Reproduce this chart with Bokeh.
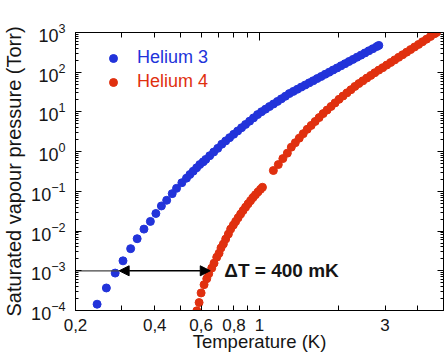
from bokeh.plotting import figure
from bokeh.models import (Range1d, FixedTicker, LogAxis, Legend, LegendItem, Arrow,
                          NormalHead, Label, LogTickFormatter)
from bokeh.embed import file_html
from bokeh.resources import INLINE

# ---------------- data ----------------
he3_T = [0.2416, 0.262, 0.283, 0.303, 0.324, 0.343, 0.364, 0.385, 0.404, 0.424,
         0.444, 0.466, 0.484, 0.507, 0.528, 0.544, 0.560, 0.577, 0.593, 0.611,
         0.625, 0.647, 0.670, 0.694, 0.719, 0.744, 0.770, 0.798, 0.826, 0.855,
         0.885, 0.917, 0.949, 0.983, 1.018, 1.054, 1.091, 1.130, 1.170, 1.211,
         1.254, 1.298, 1.344, 1.392, 1.441, 1.492, 1.545, 1.600, 1.656, 1.715,
         1.776, 1.839, 1.904, 1.971, 2.041, 2.113, 2.188, 2.265, 2.346, 2.429,
         2.515, 2.604, 2.696, 2.791, 2.840]
he3_P = [1.44e-4, 3.69e-4, 8.76e-4, 1.78e-3, 3.61e-3, 6.42e-3, 0.0112, 0.0175, 0.0277, 0.0429,
         0.0596, 0.0876, 0.119, 0.165, 0.215, 0.266, 0.322, 0.391, 0.473, 0.553,
         0.638, 0.790, 0.977, 1.209, 1.540, 1.862, 2.252, 2.738, 3.311, 4.004,
         4.842, 5.855, 7.079, 8.560, 10.12, 11.75, 13.65, 15.85, 18.41, 21.38,
         24.83, 29.01, 32.92, 37.15, 42.17, 47.59, 54.01, 60.95, 69.18, 78.05,
         88.61, 100.0, 113.5, 128.1, 145.4, 164.1, 186.2, 210.2, 238.5, 269.2,
         305.5, 346.7, 391.3, 444.1, 473.2]

he4_T = [0.578, 0.5896, 0.600, 0.6158, 0.6304, 0.6415, 0.6586, 0.6719, 0.688, 0.702,
         0.714, 0.729, 0.744, 0.7617, 0.777, 0.7955,
         0.8117, 0.8295, 0.8477, 0.8663, 0.8853, 0.9047, 0.9245, 0.9447, 0.9655, 0.9867,
         1.0085, 1.0262,
         1.129, 1.179, 1.2266, 1.2756,
         1.3207, 1.3675, 1.4159, 1.4660, 1.5179, 1.5716, 1.6272, 1.6848, 1.7445, 1.8062,
         1.8702, 1.9364, 2.0049, 2.0759, 2.1494, 2.2255, 2.3042, 2.3858, 2.4703, 2.5577,
         2.6482, 2.7420, 2.8390, 2.9395, 3.0436, 3.1513, 3.2629, 3.3784, 3.4980, 3.6218,
         3.7500, 3.8828, 4.0202, 4.1625, 4.3099, 4.4624, 4.6204, 4.702]
he4_P = [9.83e-5, 1.585e-4, 2.77e-4, 4.47e-4, 6.31e-4, 8.41e-4, 1.168e-3, 1.557e-3, 2.20e-3, 2.77e-3,
         3.76e-3, 4.73e-3, 6.31e-3, 8.41e-3, 0.01122, 0.01413,
         0.01738, 0.02163, 0.02677, 0.03292, 0.04004, 0.04842, 0.05821, 0.06958, 0.08222, 0.09661,
         0.1122, 0.1266,
         0.335, 0.473, 0.668, 0.917,
         1.296, 1.679, 2.188, 2.835, 3.652, 4.571, 5.754, 7.202, 9.068, 11.15,
         13.73, 16.89, 20.78, 25.12, 30.20, 36.31, 43.90, 51.88, 60.60, 71.20,
         83.18, 97.16, 112.9, 130.3, 151.4, 175.8, 204.2, 237.1, 275.4, 319.9,
         371.5, 431.5, 501.2, 585.4, 680.0, 794.3, 927.9, 1000.0]

series_names = ["Helium 3", "Helium 4"]

x_major = [0.2, 0.4, 0.6, 0.8, 1, 3]
x_labels = ["0,2", "0,4", "0,6", "0,8", "1", "3"]
x_minor = [0.3, 0.5, 0.7, 0.9, 2, 4]
y_decades = [1e-4, 1e-3, 1e-2, 1e-1, 1e0, 1e1, 1e2, 1e3]
y_minor = [m * d for d in y_decades[:-1] for m in range(2, 10)]

x_title = "Temperature (K)"
y_title = "Saturated vapour pressure (Torr)"

level_P = 1e-3          # pressure at which the temperature gap is marked
t_he3_level = 0.293     # He-3 temperature at that pressure
t_he4_level = 0.650     # He-4 temperature at that pressure
dT_text = "\u0394T = 400 mK"

BLUE = "#2233DA"
RED = "#E0300F"
FONT = "Liberation Sans"
INK = "#151515"

p = figure(width=447, height=354, x_axis_type="log", y_axis_type="log",
           x_range=Range1d(0.2, 5), y_range=Range1d(1e-4, 1e3),
           output_backend="svg", toolbar_location=None,
           min_border_left=73, min_border_right=4, min_border_top=32, min_border_bottom=42)
p.grid.visible = False
p.outline_line_color = "black"
p.outline_line_width = 1
p.background_fill_color = "white"
p.border_fill_color = "white"

# bottom axis
xa = p.xaxis[0]
xa.ticker = FixedTicker(ticks=x_major, minor_ticks=x_minor)
xa.major_label_overrides = dict(zip(x_major, x_labels))
xa.axis_label = x_title
xa.axis_label_text_font = FONT
xa.axis_label_text_font_style = "normal"
xa.axis_label_text_font_size = "18.5px"
xa.axis_label_text_color = INK
xa.axis_label_standoff = -3
xa.major_label_text_font = FONT
xa.major_label_text_font_size = "17px"
xa.major_label_text_color = INK
xa.major_label_standoff = 8
xa.major_tick_in = 5
xa.major_tick_out = 0
xa.minor_tick_in = 5
xa.minor_tick_out = 0
xa.axis_line_color = "black"

# left axis
ya = p.yaxis[0]
ya.ticker = FixedTicker(ticks=y_decades, minor_ticks=y_minor)
ya.formatter = LogTickFormatter()
ya.axis_label = y_title
ya.axis_label_text_font = FONT
ya.axis_label_text_font_style = "normal"
ya.axis_label_text_font_size = "20px"
ya.axis_label_text_color = INK
ya.axis_label_standoff = 3
ya.major_label_text_font = FONT
ya.major_label_text_font_size = "18px"
ya.major_label_text_color = INK
ya.major_label_text_baseline = "alphabetic"
ya.major_label_standoff = 10
ya.major_tick_in = 6
ya.major_tick_out = 0
ya.minor_tick_in = 3
ya.minor_tick_out = 0
ya.axis_line_color = "black"

# mirrored axes (ticks only, labels invisible)
ra = LogAxis(ticker=FixedTicker(ticks=y_decades, minor_ticks=y_minor),
             major_label_text_font_size="1px", major_label_text_alpha=0, major_label_standoff=0,
             major_tick_in=6, major_tick_out=0, minor_tick_in=3, minor_tick_out=0)
p.add_layout(ra, "right")
ta = LogAxis(ticker=FixedTicker(ticks=[1], minor_ticks=[0.3, 0.4, 0.5, 0.6, 0.7, 0.8, 0.9, 2, 3, 4]),
             major_label_text_font_size="1px", major_label_text_alpha=0, major_label_standoff=0,
             major_tick_in=8, major_tick_out=0, minor_tick_in=5, minor_tick_out=0)
p.add_layout(ta, "above")

r3 = p.scatter(he3_T, he3_P, size=8, color=BLUE)
r4 = p.scatter(he4_T, he4_P, size=8, color=RED)

# temperature-gap arrow
p.segment(x0=[0.2], y0=[level_P], x1=[t_he3_level], y1=[level_P], line_color="#444444", line_width=1.2)
p.add_layout(Arrow(start=NormalHead(size=10, fill_color="black", line_color="black"),
                   end=NormalHead(size=10, fill_color="black", line_color="black"),
                   x_start=t_he3_level, y_start=level_P, x_end=t_he4_level, y_end=level_P,
                   line_color="black", line_width=1.5))
p.add_layout(Label(x=t_he4_level, y=level_P, x_offset=14, text=dT_text,
                   text_font=FONT, text_font_style="bold", text_font_size="19px",
                   text_baseline="middle", text_align="left", text_color=INK))

# legends (one per series so each label takes its series colour)
for name, r, col, loc in [(series_names[0], r3, BLUE, (28, 242)),
                          (series_names[1], r4, RED, (28, 218))]:
    lg = Legend(items=[LegendItem(label=name, renderers=[r])], location=loc,
                label_text_color=col, label_text_font=FONT, label_text_font_size="18px",
                glyph_width=20, glyph_height=20, label_standoff=14, padding=0, margin=0,
                spacing=0, border_line_color=None, background_fill_alpha=0)
    p.add_layout(lg)

open("out.html", "w").write(file_html(p, INLINE))
